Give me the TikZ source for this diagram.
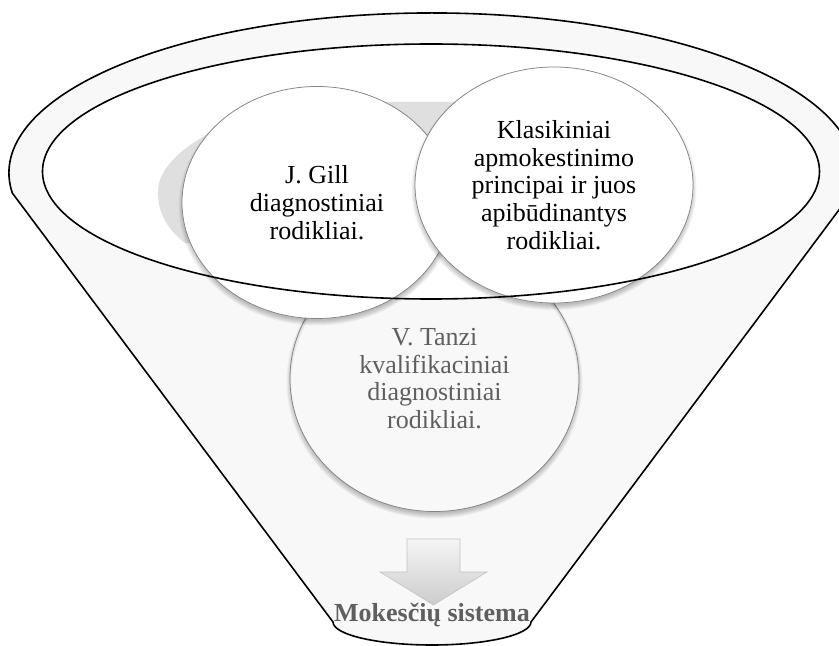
\documentclass[tikz,border=0pt]{standalone}
\usepackage{fontspec}
\setmainfont{Liberation Serif}
\usetikzlibrary{shapes.geometric}
\definecolor{funnelfill}{HTML}{F8F8F8}
\definecolor{backdisc}{HTML}{DFDFDF}
\definecolor{softtext}{HTML}{5F5F5F}
\definecolor{bubbleline}{HTML}{858585}
\definecolor{arrowline}{HTML}{C4C4C4}
% soft shadow ring below a bubble: centre x, centre y, x radius, y radius
\newcommand\bubbleshadow[4]{%
  \foreach \k in {0,1,2,3,4,5}{%
    \fill[black,opacity=0.045,even odd rule]
      (#1,#2-3.5) ellipse [x radius=#3+\k-1.5, y radius=#4+\k-1.5]
      (#1,#2) ellipse [x radius=#3, y radius=#4];
  }}
\begin{document}
\begin{tikzpicture}[x=1pt,y=1pt,
  rim/.style={draw=black,line width=1.6pt},
  bubble/.style={ellipse,draw=bubbleline,line width=0.75pt,inner sep=0pt,
    align=center,font=\fontsize{26}{27.7}\selectfont},
  bubbletext/.style={text=black},
  fadedtext/.style={text=softtext},
  outlabel/.style={font=\bfseries\fontsize{26}{28}\selectfont,text=softtext,anchor=base,inner sep=0pt}]
\useasboundingbox (0,0) rectangle (839,646);
\clip (0,0) rectangle (839,646);

% funnel body: upper rim, tapering sides, rounded spout
\path[rim,fill=funnelfill] (12.3,453)
  arc[start angle=187.2,end angle=-7.2,x radius=423,y radius=160]
  -- (531,24)
  arc[start angle=0,end angle=-180,x radius=99,y radius=23]
  -- cycle;

% mouth of the funnel
\fill[white] (431,474.5) ellipse [x radius=388.5, y radius=127.5];

% grey backing disc behind the upper bubbles
\fill[backdisc] (462,544) -- (260,544) -- (222,521) -- (190,501)
  .. controls (170,486) and (158,471) .. (158,454)
  .. controls (158,434) and (166,418) .. (185,403)
  -- (400,396) -- cycle;

% lower bubble
\bubbleshadow{434.5}{267.5}{144.5}{133}
\node[bubble,fadedtext,minimum width=289pt,minimum height=266pt] (tanzi) at (434.5,267.5)
  {V. Tanzi\\kvalifikaciniai\\diagnostiniai\\rodikliai.};

% upper bubbles
\bubbleshadow{317}{443.5}{135}{116}
\node[bubble,bubbletext,fill=white,minimum width=270pt,minimum height=232pt] (gill) at (317,443.5)
  {J. Gill\\diagnostiniai\\rodikliai.};

\bubbleshadow{554}{461}{139}{118}
\node[bubble,bubbletext,fill=white,minimum width=278pt,minimum height=236pt] (klas) at (554,461)
  {Klasikiniai\\apmokestinimo\\principai ir juos\\apibūdinantys\\rodikliai.};

% rim of the mouth, drawn over the bubbles
\draw[rim] (431,474.5) ellipse [x radius=388.5, y radius=127.5];

% downward block arrow in the spout
\draw[draw=arrowline,line width=0.6pt,top color=white!96!black,bottom color=white!80!black]
  (407,107) -- (460,107) -- (460,74) -- (487,74) -- (433.5,41)
  -- (380,74) -- (407,74) -- cycle;

\node[outlabel] (result) at (432,24) {Mokesčių sistema};
\end{tikzpicture}
\end{document}
